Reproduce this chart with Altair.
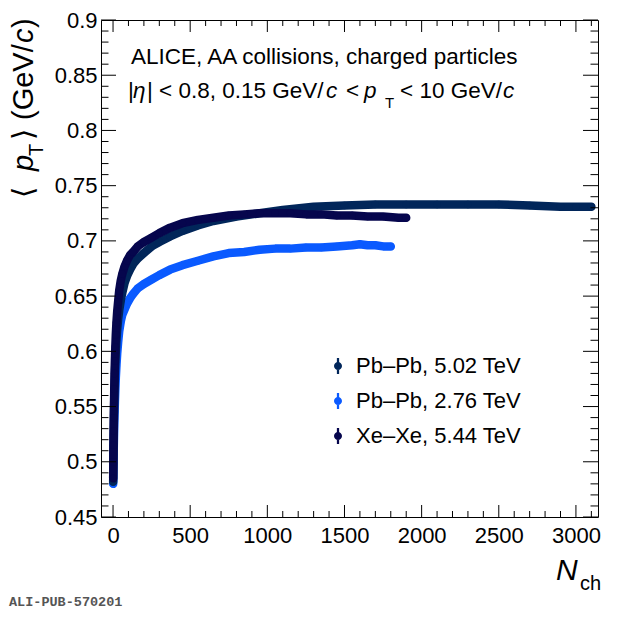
import altair as alt
import pandas as pd

FONT = "Liberation Sans"

SERIES = ["Pb–Pb, 5.02 TeV", "Pb–Pb, 2.76 TeV", "Xe–Xe, 5.44 TeV"]
COLORS = ["#01265A", "#0A5AFF", "#06064D"]

PB502_N = [1, 2, 3, 4, 5, 6, 8, 10, 12, 15, 18, 22, 27, 33, 40, 50, 60, 75, 90, 110,
           130, 160, 200, 250, 300, 370, 450, 550, 650, 800, 950, 1100, 1300, 1500,
           1700, 1900, 2100, 2300, 2500, 2700, 2900, 3000, 3100]
PB502_PT = [0.482, 0.497, 0.510, 0.522, 0.532, 0.541, 0.556, 0.568, 0.578, 0.590,
            0.600, 0.610, 0.620, 0.629, 0.637, 0.646, 0.653, 0.662, 0.668, 0.674,
            0.679, 0.684, 0.689, 0.695, 0.699, 0.704, 0.709, 0.714, 0.718, 0.722,
            0.725, 0.728, 0.731, 0.732, 0.733, 0.733, 0.733, 0.733, 0.733, 0.732,
            0.731, 0.731, 0.731]

PB276_N = [1, 2, 3, 4, 5, 6, 8, 10, 12, 15, 18, 22, 27, 33, 40, 50, 60, 75, 90, 110,
           130, 160, 200, 250, 300, 370, 450, 550, 650, 750, 850, 950, 1050, 1150,
           1250, 1350, 1450, 1550, 1600, 1650, 1700, 1750, 1800]
PB276_PT = [0.480, 0.490, 0.499, 0.507, 0.515, 0.522, 0.534, 0.545, 0.554, 0.566,
            0.576, 0.587, 0.598, 0.608, 0.618, 0.627, 0.633, 0.638, 0.643, 0.648,
            0.652, 0.657, 0.661, 0.665, 0.669, 0.674, 0.678, 0.682, 0.686, 0.689,
            0.690, 0.692, 0.693, 0.693, 0.694, 0.694, 0.695, 0.696, 0.697, 0.696,
            0.696, 0.695, 0.695]

XEXE_N = [1, 2, 3, 4, 5, 6, 8, 10, 12, 15, 18, 22, 27, 33, 40, 50, 60, 75, 90, 110,
          130, 160, 200, 250, 300, 370, 450, 550, 650, 750, 850, 950, 1050, 1150,
          1250, 1350, 1450, 1550, 1650, 1750, 1850, 1900]
XEXE_PT = [0.485, 0.500, 0.515, 0.528, 0.540, 0.550, 0.566, 0.580, 0.591, 0.604,
           0.615, 0.626, 0.636, 0.645, 0.655, 0.664, 0.670, 0.677, 0.682, 0.687,
           0.690, 0.695, 0.699, 0.703, 0.707, 0.712, 0.716, 0.719, 0.721, 0.723,
           0.724, 0.725, 0.725, 0.725, 0.724, 0.724, 0.723, 0.723, 0.722, 0.722,
           0.721, 0.721]

X_MAJOR = [0, 500, 1000, 1500, 2000, 2500, 3000]
X_MINOR = [100, 200, 300, 400, 600, 700, 800, 900, 1100, 1200, 1300, 1400, 1600,
           1700, 1800, 1900, 2100, 2200, 2300, 2400, 2600, 2700, 2800, 2900, 3100]
Y_MAJOR = [0.45, 0.5, 0.55, 0.6, 0.65, 0.7, 0.75, 0.8, 0.85, 0.9]
Y_MINOR = [0.46, 0.47, 0.48, 0.49, 0.51, 0.52, 0.53, 0.54, 0.56, 0.57, 0.58, 0.59,
           0.61, 0.62, 0.63, 0.64, 0.66, 0.67, 0.68, 0.69, 0.71, 0.72, 0.73, 0.74,
           0.76, 0.77, 0.78, 0.79, 0.81, 0.82, 0.83, 0.84, 0.86, 0.87, 0.88, 0.89]

W, H = 497, 497
XDOM = [-78, 3143]
YDOM = [0.45, 0.9]

xs = alt.Scale(domain=XDOM, nice=False, zero=False)
ys = alt.Scale(domain=YDOM, nice=False, zero=False)

xaxis = alt.Axis(title=None, values=X_MAJOR, ticks=False, domain=False, grid=False,
                 labelFont=FONT, labelFontSize=22, labelColor="black",
                 labelPadding=8, labelFlush=False, format="d")
yaxis = alt.Axis(title=None, values=Y_MAJOR, ticks=False, domain=False, grid=False,
                 labelFont=FONT, labelFontSize=22, labelColor="black",
                 labelPadding=4, labelFlush=False, format=".2~f")

SYMBOL = ("M-0.5,0 A0.5,0.5 0 1,1 0.5,0 A0.5,0.5 0 1,1 -0.5,0 Z "
          "M-0.14,-1 L0.14,-1 L0.14,1 L-0.14,1 Z")

legend = alt.Legend(title=None, orient="none", legendX=226, legendY=335,
                    direction="vertical", symbolType=SYMBOL, symbolSize=256,
                    symbolStrokeWidth=0, labelFont=FONT, labelFontSize=22,
                    labelColor="black", labelOffset=7, rowPadding=13, padding=0,
                    labelLimit=400)

color = alt.Color("series:N", scale=alt.Scale(domain=SERIES, range=COLORS),
                  legend=legend)

frames = {
    SERIES[0]: pd.DataFrame({"N": PB502_N, "pt": PB502_PT, "series": SERIES[0]}),
    SERIES[1]: pd.DataFrame({"N": PB276_N, "pt": PB276_PT, "series": SERIES[1]}),
    SERIES[2]: pd.DataFrame({"N": XEXE_N, "pt": XEXE_PT, "series": SERIES[2]}),
}

layers = []
for name in [SERIES[1], SERIES[0], SERIES[2]]:
    df = frames[name]
    col = COLORS[SERIES.index(name)]
    base = alt.Chart(df)
    layers.append(base.mark_line(strokeWidth=8.5, strokeCap="round",
                                 strokeJoin="round", color=col).encode(
        x=alt.X("N:Q", scale=xs, axis=xaxis),
        y=alt.Y("pt:Q", scale=ys, axis=yaxis),
        order="N:Q"))
    layers.append(base.mark_circle(size=55, opacity=1).encode(
        x=alt.X("N:Q", scale=xs, axis=xaxis),
        y=alt.Y("pt:Q", scale=ys, axis=yaxis),
        color=color))


# inward ticks on all four sides
def xticks(vals, length):
    d = alt.Chart(pd.DataFrame({"v": vals}))
    bot = d.mark_rule(color="black", strokeWidth=1).encode(
        x=alt.X("v:Q", scale=xs, axis=xaxis), y=alt.value(H), y2=alt.value(H - length))
    top = d.mark_rule(color="black", strokeWidth=1).encode(
        x=alt.X("v:Q", scale=xs, axis=xaxis), y=alt.value(0), y2=alt.value(length))
    return [bot, top]


def yticks(vals, length):
    d = alt.Chart(pd.DataFrame({"v": vals}))
    left = d.mark_rule(color="black", strokeWidth=1).encode(
        y=alt.Y("v:Q", scale=ys, axis=yaxis), x=alt.value(0), x2=alt.value(length))
    right = d.mark_rule(color="black", strokeWidth=1).encode(
        y=alt.Y("v:Q", scale=ys, axis=yaxis), x=alt.value(W), x2=alt.value(W - length))
    return [left, right]


ticks = xticks(X_MAJOR, 12) + xticks(X_MINOR, 6) + yticks(Y_MAJOR, 15) + yticks(Y_MINOR, 7.5)

# text pieces: (text, x, y, size, italic, angle)
TITLE_LINE1 = "ALICE, AA collisions, charged particles"
TEXTS = [
    (TITLE_LINE1, 30, 44, 22.5, False, 0),
    ("|", 27, 78, 22.5, False, 0),
    ("η", 32, 78, 22.5, True, 0),
    ("| < 0.8, 0.15 GeV/", 46, 78, 22.5, False, 0),
    ("c", 225, 78, 22.5, True, 0),
    ("<", 245, 78, 22.5, False, 0),
    ("p", 263, 78, 22.5, True, 0),
    ("T", 284, 88, 15, False, 0),
    ("< 10 GeV/", 299, 78, 22.5, False, 0),
    ("c", 402, 78, 22.5, True, 0),
    # y-axis title (rotated)
    ("⟨", -68, 178, 29, False, 270),
    ("p", -68, 151, 29, True, 270),
    ("T", -58, 136, 20, False, 270),
    ("⟩", -68, 120, 29, False, 270),
    ("(GeV/", -68, 100, 29, False, 270),
    ("c", -68, 23, 29, True, 270),
    (")", -68, 8, 29, False, 270),
    # x-axis title
    ("N", 455, 560, 30, True, 0),
    ("ch", 479, 570, 20, False, 0),
]

text_layers = []
for (s, px, py, fs, it, ang) in TEXTS:
    kw = dict(font=FONT, fontSize=fs, color="black", align="left",
              baseline="alphabetic", angle=ang)
    if it:
        kw["fontStyle"] = "italic"
    text_layers.append(alt.Chart(pd.DataFrame({"t": [s]})).mark_text(**kw).encode(
        x=alt.value(px), y=alt.value(py), text="t:N"))

text_layers.append(alt.Chart(pd.DataFrame({"t": ["ALI-PUB-570201"]})).mark_text(
    font="Liberation Mono", fontSize=13.5, fontWeight="bold", color="#555555",
    align="left", baseline="alphabetic").encode(
    x=alt.value(-92), y=alt.value(586), text="t:N"))

chart = alt.layer(*layers, *ticks, *text_layers).properties(
    width=W, height=H,
    padding={"left": 93, "top": 12, "right": 14, "bottom": 95},
    autosize=alt.AutoSizeParams(type="none"),
).configure_view(stroke="black", strokeWidth=1)

chart.save("out.html", embed_options={"renderer": "svg", "actions": False})
